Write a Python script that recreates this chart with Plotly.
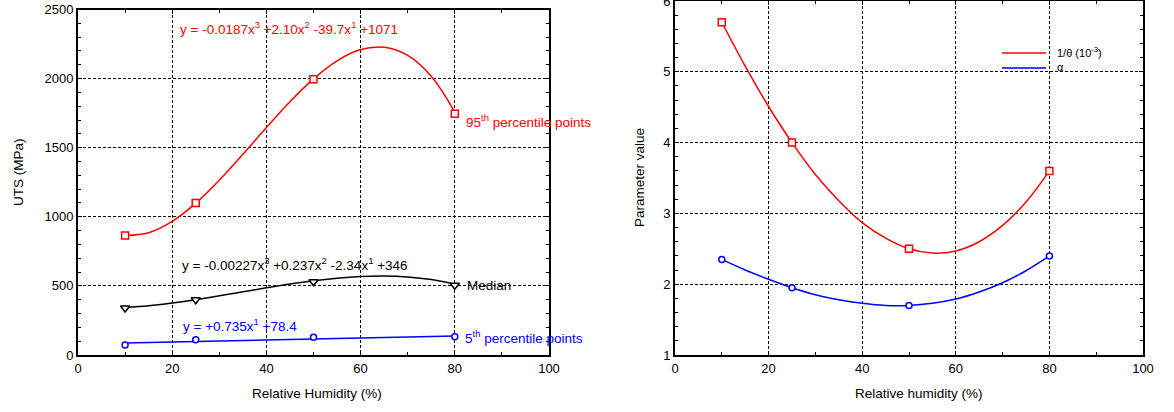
import plotly.graph_objects as go

# ---------------- data ----------------
hum_pts = [10, 25, 50, 80]
p95_pts = [865, 1100, 1995, 1745]
median_pts = [340, 400, 530, 505]
p5_pts = [72, 111, 128, 132]

fit_x = [10, 15, 20, 25, 30, 35, 40, 45, 50, 55, 60, 65, 70, 75, 80]
p95_fit = [865, 885, 967, 1099, 1265, 1452, 1646, 1833, 1998, 2129, 2210, 2227, 2168, 2017, 1758]
median_fit = [344, 356, 376, 400, 428, 457, 486, 514, 538, 556, 568, 572, 565, 546, 512]
p5_fit_x = [10, 80]
p5_fit = [86, 137]

inv_theta_pts = [5.70, 4.00, 2.50, 3.60]
alpha_pts = [2.35, 1.95, 1.70, 2.40]
inv_theta_fit = [5.70, 5.08, 4.51, 4.00, 3.55, 3.18, 2.87, 2.65, 2.50, 2.44, 2.47, 2.60, 2.83, 3.16, 3.60]
alpha_fit = [2.35, 2.20, 2.07, 1.95, 1.85, 1.78, 1.73, 1.70, 1.70, 1.73, 1.79, 1.89, 2.02, 2.19, 2.40]

legend_names = ["1/\u03b8 (10<sup>-3</sup>)", "\u03b1"]

RED = "#ff0000"
BLUE = "#0000ff"
BLACK = "#000000"
FONT = "Liberation Sans, Arial, sans-serif"
W, H = 1174, 412

fig = go.Figure()

def curve(x, y, color, xa, ya, name=None):
    fig.add_trace(go.Scatter(x=x, y=y, mode="lines", line=dict(color=color, width=1.5, shape="spline"),
                             xaxis=xa, yaxis=ya, name=name, showlegend=False, hoverinfo="skip"))

def pts(x, y, color, symbol, xa, ya, size=7):
    fig.add_trace(go.Scatter(x=x, y=y, mode="markers",
                             marker=dict(symbol=symbol, size=size, color="white", line=dict(color=color, width=1.5)),
                             xaxis=xa, yaxis=ya, showlegend=False))

# Left panel
curve(fit_x, p95_fit, RED, "x", "y", "95th percentile points")
curve(fit_x, median_fit, BLACK, "x", "y", "Median")
curve(p5_fit_x, p5_fit, BLUE, "x", "y", "5th percentile points")
pts(hum_pts, p95_pts, RED, "square", "x", "y")
pts(hum_pts, median_pts, BLACK, "triangle-down", "x", "y", size=8)
pts(hum_pts, p5_pts, BLUE, "circle", "x", "y", size=6)

# Right panel
curve(fit_x, inv_theta_fit, RED, "x2", "y2", legend_names[0])
curve(fit_x, alpha_fit, BLUE, "x2", "y2", legend_names[1])
pts(hum_pts, inv_theta_pts, RED, "square", "x2", "y2")
pts(hum_pts, alpha_pts, BLUE, "circle", "x2", "y2", size=6)

axis_common = dict(
    showline=True, linewidth=2, linecolor="black", mirror="allticks",
    ticks="inside", ticklen=4, tickwidth=1, tickcolor="black",
    showgrid=True, gridcolor="black", gridwidth=1, griddash="3px,2px",
    zeroline=False, tickfont=dict(family=FONT, size=13, color="black"),
    automargin=False, ticklabeloverflow="allow",
)

def minor(d):
    return dict(dtick=d, ticks="inside", ticklen=3, tickcolor="black", tickwidth=1)

fig.update_layout(
    width=W, height=H,
    margin=dict(l=0, r=0, t=0, b=0),
    paper_bgcolor="white", plot_bgcolor="white",
    font=dict(family=FONT, size=13, color="black"),
    xaxis=dict(domain=[78/W, 549/W], range=[0, 100], dtick=20, minor=minor(10), anchor="y", **axis_common),
    yaxis=dict(domain=[1-355/H, 1-9.5/H], range=[0, 2500], dtick=500, minor=minor(100), anchor="x", **axis_common),
    xaxis2=dict(domain=[675/W, 1143/W], range=[0, 100], dtick=20, minor=minor(10), anchor="y2", **axis_common),
    yaxis2=dict(domain=[1-355/H, 1-1/H], range=[1, 6], dtick=1, minor=minor(0.2), anchor="x2", **axis_common),
    showlegend=False,
)

ann = []
def text(x, y, s, color, xref="x", yref="y", size=13.5, angle=0, xanchor="left"):
    ann.append(dict(x=x, y=y, xref=xref, yref=yref, text=s, showarrow=False, xanchor=xanchor, yanchor="middle",
                    textangle=angle, font=dict(family=FONT, size=size, color=color)))

text(21.2, 2363, "y = -0.0187x<sup>3</sup> +2.10x<sup>2</sup> -39.7x<sup>1</sup> +1071", RED)
text(82.0, 1690, "95<sup>th</sup> percentile points", RED)
text(21.7, 657, "y = -0.00227x<sup>3</sup> +0.237x<sup>2</sup> -2.34x<sup>1</sup> +346", BLACK)
text(82.2, 505, "Median", BLACK)
text(21.8, 217, "y = +0.735x<sup>1</sup> +78.4", BLUE)
text(81.7, 132, "5<sup>th</sup> percentile points", BLUE)

# axis titles
text(18/W, 1-172/H, "UTS (MPa)", BLACK, xref="paper", yref="paper", angle=-90, xanchor="center")
text(317/W, 1-393/H, "Relative Humidity (%)", BLACK, xref="paper", yref="paper", xanchor="center")
text(639/W, 1-178/H, "Parameter value", BLACK, xref="paper", yref="paper", angle=-90, xanchor="center")
text(919/W, 1-393/H, "Relative humidity (%)", BLACK, xref="paper", yref="paper", xanchor="center")

# legend of the right panel (line samples + labels)
shapes = []
for name, color, ypx in [(legend_names[0], RED, 53), (legend_names[1], BLUE, 68)]:
    shapes.append(dict(type="line", xref="paper", yref="paper", x0=1002/W, x1=1046/W,
                       y0=1-ypx/H, y1=1-ypx/H, line=dict(color=color, width=1.5)))
    text(1055/W, 1-(ypx-1)/H, name, BLACK, xref="paper", yref="paper", size=11)

fig.update_layout(annotations=ann, shapes=shapes)
fig.write_html("out.html")
